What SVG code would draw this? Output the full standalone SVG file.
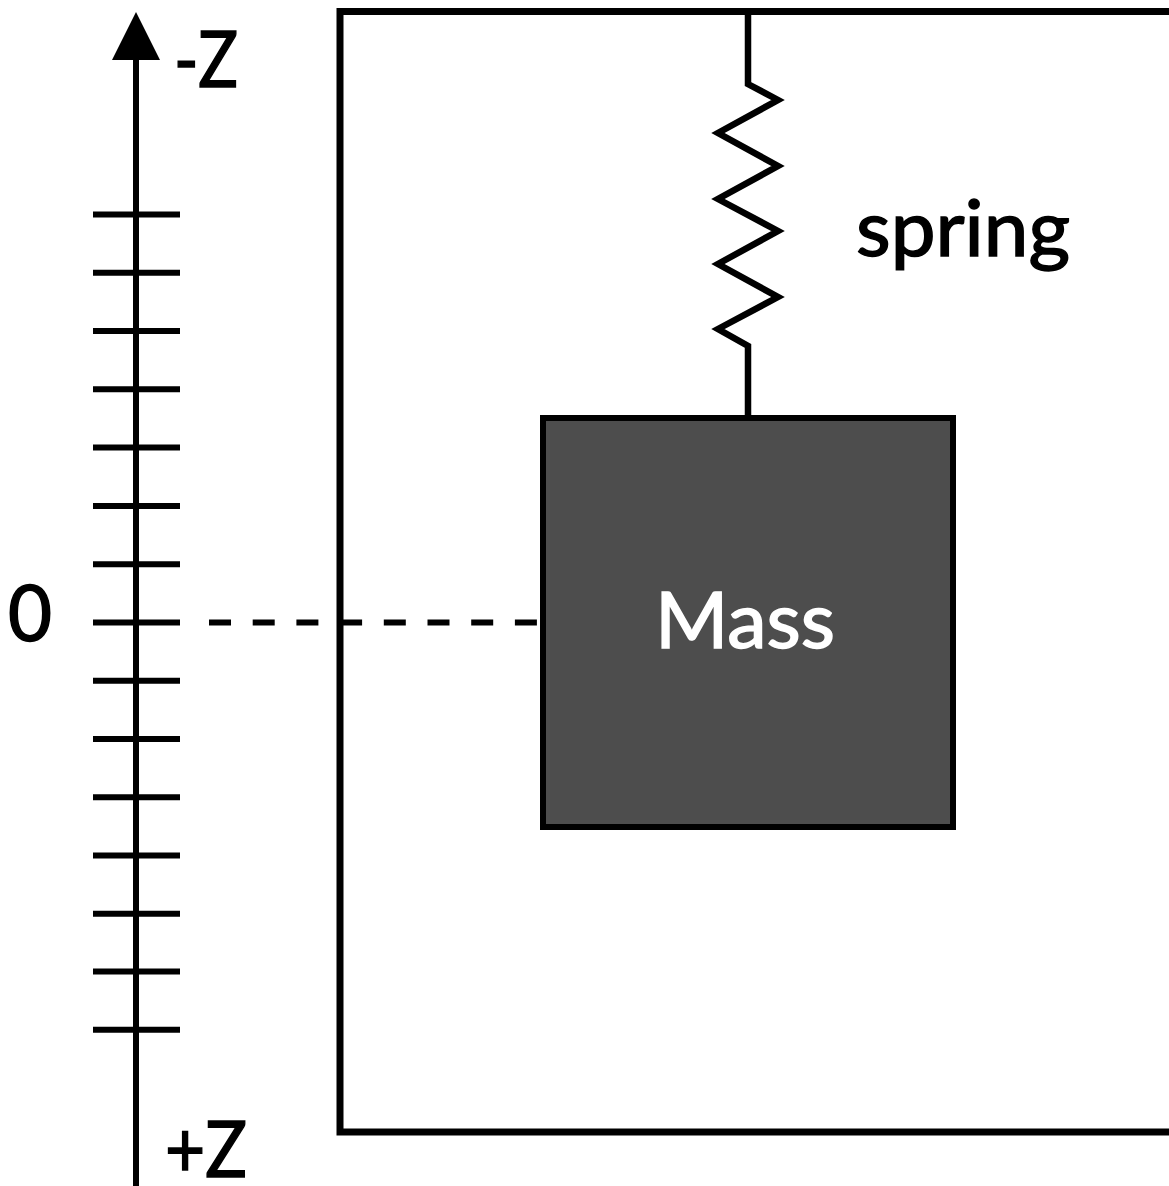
<svg xmlns="http://www.w3.org/2000/svg" width="1169" height="1186" viewBox="0 0 1169 1186">
<style>
.ln{fill:none;stroke:#000;stroke-width:6}
.t{font-family:"Lato","Open Sans","Liberation Sans",sans-serif;font-size:78px;fill:#000;stroke:#000;stroke-width:1.500}
.w{fill:#fff;stroke:#fff}
</style>
<rect width="1169" height="1186" fill="#fff"/>
<g id="frame"><rect class="ln" x="340" y="11.500" width="840" height="1120.500" style="stroke-width:7"/></g>
<g id="connectors">
<path id="spring-line" class="ln" d="M748 12V84L778 100L718 133L778 166L718 199L778 231L718 264L778 297L718 329L748 346V418" stroke-linejoin="miter" style="stroke-width:6.500"/>
<path id="axis-line" class="ln" d="M136 1186V56"/>
<path id="axis-head" d="M136 12L160 60H112Z" fill="#000"/>
<path id="ticks" class="ln" d="M93 214.500H180M93 272.700H180M93 331H180M93 389.300H180M93 447.600H180M93 506H180M93 564.300H180M93 622.500H180M93 680.700H180M93 739H180M93 797.300H180M93 855.600H180M93 913.800H180M93 971.500H180M93 1029.700H180"/>
<path id="zero-dash" class="ln" d="M209 622.500H538" stroke-dasharray="22 21.700"/>
</g>
<g id="mass"><rect x="543" y="418" width="410" height="409" fill="#4d4d4d" stroke="#000" stroke-width="6"/>
<text class="t w" x="655" y="648" textLength="180" lengthAdjust="spacingAndGlyphs">Mass</text></g>
<g id="labels">
<text class="t" x="174" y="87" textLength="64" lengthAdjust="spacingAndGlyphs">-Z</text>
<text class="t" x="165" y="1177" textLength="82" lengthAdjust="spacingAndGlyphs">+Z</text>
<text class="t" x="8" y="641" textLength="44" lengthAdjust="spacingAndGlyphs">0</text>
<text class="t" x="856" y="256" textLength="214" lengthAdjust="spacingAndGlyphs">spring</text>
</g>
</svg>
